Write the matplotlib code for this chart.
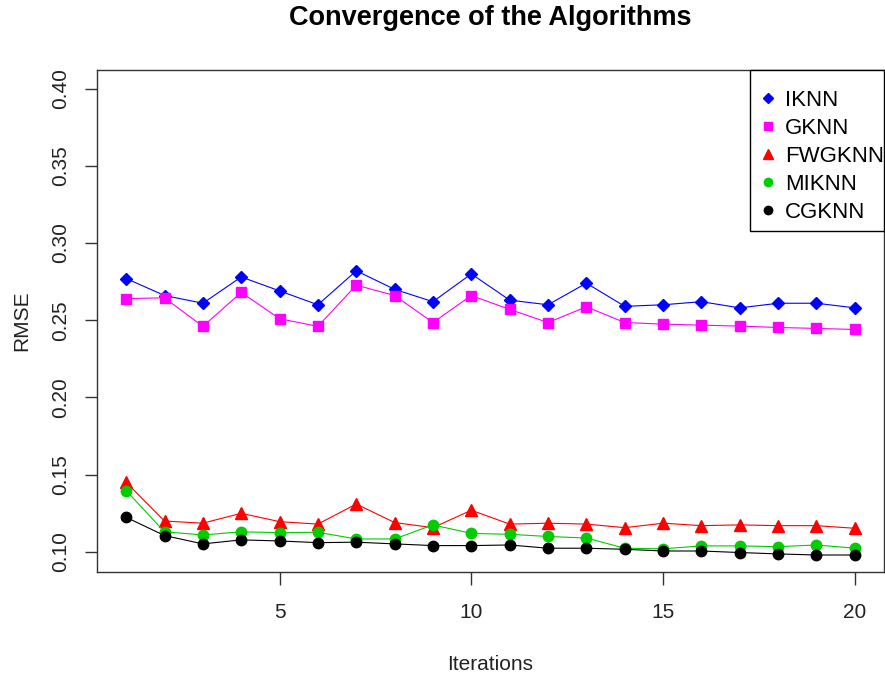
import matplotlib
matplotlib.use("Agg")
import matplotlib.pyplot as plt
from matplotlib.ticker import FormatStrFormatter
from matplotlib.patches import Rectangle

plt.rcParams['font.family'] = ['Liberation Sans', 'DejaVu Sans']

iterations = list(range(1, 21))
series_names = ["IKNN", "GKNN", "FWGKNN", "MIKNN", "CGKNN"]
iknn = [0.277, 0.266, 0.261, 0.278, 0.269, 0.260, 0.282, 0.270, 0.262, 0.280,
        0.263, 0.260, 0.274, 0.259, 0.260, 0.262, 0.258, 0.261, 0.261, 0.258]
gknn = [0.264, 0.2645, 0.246, 0.268, 0.251, 0.246, 0.2727, 0.266, 0.2485, 0.266,
        0.257, 0.2485, 0.2587, 0.2485, 0.2475, 0.2468, 0.2462, 0.2453, 0.2447, 0.244]
fwgknn = [0.145, 0.120, 0.1186, 0.125, 0.1196, 0.118, 0.131, 0.119, 0.1157, 0.127,
          0.118, 0.1186, 0.118, 0.1157, 0.1186, 0.117, 0.1175, 0.117, 0.117, 0.1153]
miknn = [0.1397, 0.113, 0.111, 0.113, 0.1125, 0.1127, 0.1084, 0.1084, 0.1175, 0.112,
         0.1114, 0.110, 0.109, 0.1024, 0.102, 0.1039, 0.1039, 0.1034, 0.1045, 0.1024]
cgknn = [0.1224, 0.1106, 0.1052, 0.1078, 0.1071, 0.106, 0.1063, 0.1052, 0.1041, 0.1041,
         0.1045, 0.1024, 0.1024, 0.1017, 0.1006, 0.1006, 0.0996, 0.0987, 0.098, 0.098]
yticks = [0.10, 0.15, 0.20, 0.25, 0.30, 0.35, 0.40]
xticks = [5, 10, 15, 20]

W, H = 885, 678
fig = plt.figure(figsize=(W / 100, H / 100), dpi=100)
ax = fig.add_axes([97 / W, 1 - 572 / H, 787 / W, 502 / H])

styles = [
    dict(color="#0000FF", marker="D", ms=6),
    dict(color="#FF00FF", marker="s", ms=7.5),
    dict(color="#FF0000", marker="^", ms=8.5),
    dict(color="#00CD00", marker="o", ms=7.5),
    dict(color="#000000", marker="o", ms=7.5),
]
data = [iknn, gknn, fwgknn, miknn, cgknn]
for name, vals, st in zip(series_names, data, styles):
    ax.plot(iterations, vals, color=st["color"], lw=0.8, marker=st["marker"],
            ms=st["ms"], mec=st["color"], mfc=st["color"], label=name)

ax.set_xlim(0.24, 20.76)
ax.set_ylim(0.087, 0.412)
ax.set_xticks(xticks)
ax.set_yticks(yticks)
ax.yaxis.set_major_formatter(FormatStrFormatter('%.2f'))
ax.tick_params(axis='both', labelsize=15, length=9, width=1, color="#333333",
               labelcolor="#222222")
ax.tick_params(axis='x', pad=13)
ax.tick_params(axis='y', pad=10)
for lbl in ax.get_yticklabels():
    lbl.set_rotation(90)
    lbl.set_va('center')
for sp in ax.spines.values():
    sp.set_color("#333333")
    sp.set_linewidth(1.0)

ax.set_xlabel("Iterations", fontsize=15, color="#222222", va='center')
ax.xaxis.set_label_coords(0.5, (572 - 665) / 502)
ax.set_ylabel("RMSE", fontsize=15, color="#222222", va='center')
ax.yaxis.set_label_coords((22 - 97) / 787, 0.5)
fig.text(490 / W, 1 - 18 / H, "Convergence of the Algorithms", ha='center', va='center',
         fontsize=19.5, fontweight='bold')

# legend frame
ax.add_patch(Rectangle(((750 - 97) / 787, 1 - (231 - 70) / 502), (884 - 750) / 787,
                       (231 - 70) / 502, transform=ax.transAxes, fill=True,
                       facecolor='white', edgecolor='black', lw=1.0, zorder=4,
                       clip_on=False))
leg_handles = []
for name, st in zip(series_names, styles):
    lh, = ax.plot([], [], ls='none', marker=st["marker"], color=st["color"],
                  ms=st["ms"] * 0.8, label=name)
    leg_handles.append(lh)
leg = ax.legend(handles=leg_handles, loc='upper left',
                bbox_to_anchor=((761 - 97) / 787, 1 - (90 - 70) / 502),
                fontsize=16, frameon=False, borderaxespad=0, borderpad=0,
                handlelength=0.6, handletextpad=0.47, labelspacing=0.31)
leg.set_zorder(5)

fig.savefig("out.png", dpi=100)
